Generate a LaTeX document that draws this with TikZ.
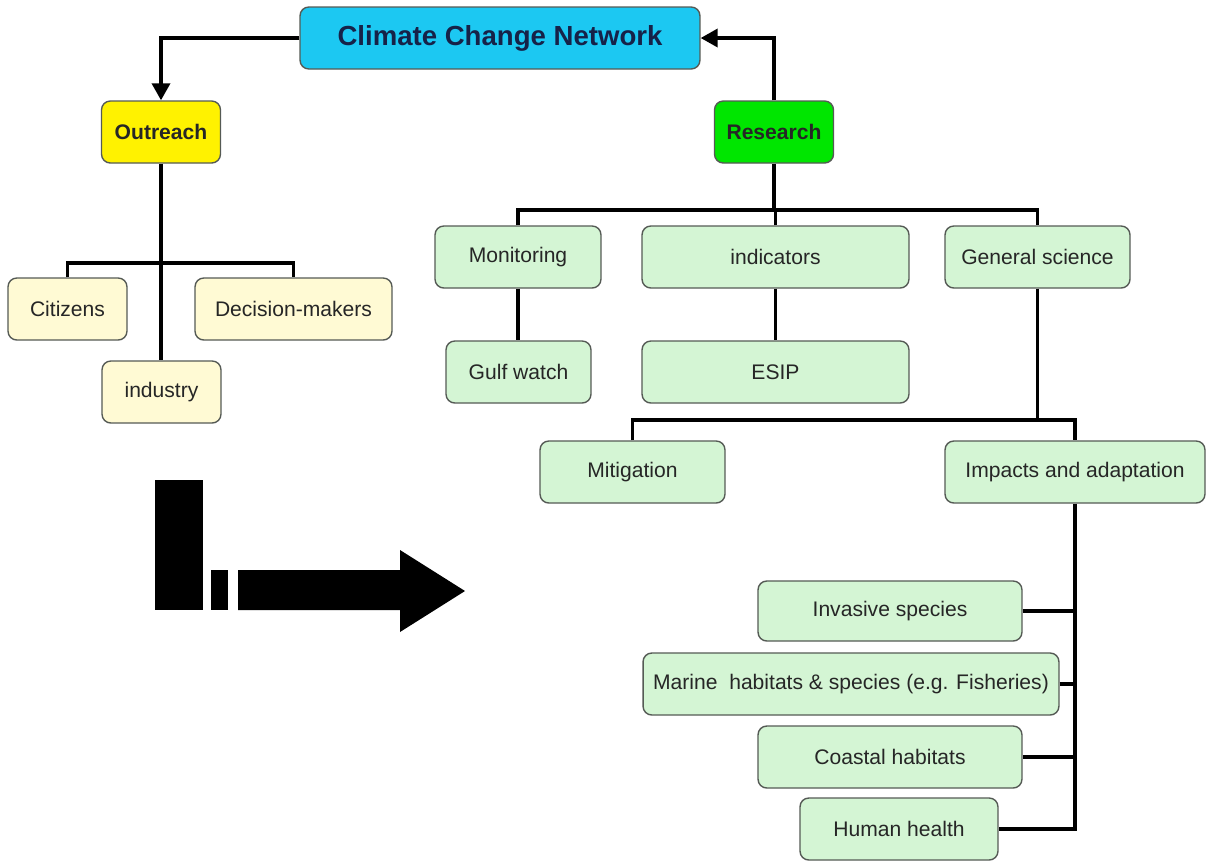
\documentclass[tikz,border=0pt]{standalone}
\usepackage{fontspec}
\setmainfont{Liberation Sans}
\usetikzlibrary{arrows.meta, positioning}

\definecolor{netblue}{RGB}{28,200,242}
\definecolor{netnavy}{RGB}{22,34,72}
\definecolor{outyellow}{RGB}{255,242,0}
\definecolor{resgreen}{RGB}{0,230,0}
\definecolor{palegreen}{RGB}{212,245,212}
\definecolor{paletan}{RGB}{255,250,212}
\definecolor{boxline}{RGB}{85,90,85}

\begin{document}
\begin{tikzpicture}[x=0.02cm, y=-0.02cm,
  box/.style={draw=boxline, line width=0.8pt, rounded corners=5pt, minimum height=1.24cm,
    inner sep=2pt, text=black!85, font=\fontsize{12}{14}\selectfont},
  greenbox/.style={box, fill=palegreen},
  tanbox/.style={box, fill=paletan},
  headbox/.style={box, font=\bfseries\fontsize{12}{14}\selectfont},
  link/.style={line width=2pt},
  arr/.style={link, -{Triangle[length=0.34cm, width=0.36cm]}}]
  \useasboundingbox (0,0) rectangle (1207,863);

  % top of the map
  \node[box, fill=netblue, text=netnavy, minimum width=8cm,
    font=\bfseries\fontsize{15.7}{18}\selectfont] (net) at (500,38) {Climate Change Network};
  \node[headbox, fill=outyellow, minimum width=2.38cm] (outreach) at (161,132) {Outreach};
  \node[headbox, fill=resgreen, minimum width=2.38cm] (research) at (774,132) {Research};
  \draw[arr] (net.west) -| (outreach.north);
  \draw[arr] (research.north) |- (net.east);

  % outreach branch
  \node[tanbox, minimum width=2.38cm] (citizens) at (67.5,309) {Citizens};
  \node[tanbox, minimum width=3.94cm] (deciders) at (293.5,309) {Decision-makers};
  \node[tanbox, minimum width=2.38cm] (industry) at (161.5,392) {industry};
  \coordinate (obus) at (161,263);
  \draw[link] (outreach.south) -- (outreach.south |- industry.north);
  \draw[link] (citizens.north) -- (citizens.north |- obus) -- (deciders.north |- obus) -- (deciders.north);

  % research branch
  \node[greenbox, minimum width=3.32cm] (monitoring) at (518,257) {Monitoring};
  \node[greenbox, minimum width=5.34cm] (indicators) at (775.5,257) {indicators};
  \node[greenbox, minimum width=3.7cm] (science) at (1037.5,257) {General science};
  \node[greenbox, minimum width=2.9cm] (gulf) at (518.5,372) {Gulf watch};
  \node[greenbox, minimum width=5.34cm] (esip) at (775.5,372) {ESIP};
  \coordinate (rbus) at (774,210);
  \draw[link] (research.south) -- (rbus);
  \draw[link] (monitoring.north) -- (monitoring.north |- rbus) -- (science.north |- rbus) -- (science.north);
  \draw[link] (indicators.north) -- (indicators.north |- rbus);
  \draw[link] (monitoring.south) -- (monitoring.south |- gulf.north);
  \draw[link] (indicators.south) -- (esip.north);

  % general science
  \node[greenbox, minimum width=3.7cm] (mitigation) at (632.5,472) {Mitigation};
  \node[greenbox, minimum width=5.2cm] (impacts) at (1075,472) {Impacts and adaptation};
  \coordinate (gbus) at (1038,420);
  \draw[link] (science.south) -- (science.south |- gbus);
  \draw[link] (mitigation.north) -- (mitigation.north |- gbus) -- (impacts.north |- gbus) -- (impacts.north);

  % impacts
  \node[greenbox, minimum width=5.28cm, minimum height=1.2cm] (invasive) at (890,611) {Invasive species};
  \node[greenbox, minimum width=8.32cm] (marine) at (851,684) {Marine\ \ habitats \& species (e.g. Fisheries)};
  \node[greenbox, minimum width=5.28cm] (coastal) at (890,757) {Coastal habitats};
  \node[greenbox, minimum width=3.96cm] (health) at (899,829) {Human health};
  \draw[link] (impacts.south) |- (health.east);
  \foreach \n in {invasive, marine, coastal}
    \draw[link] (\n.east) -- (\n.east -| impacts.south);

  % big arrow
  \fill (155,480) rectangle (203,610);
  \fill (211,570) rectangle (228,610);
  \fill (238,570) -- (400,570) -- (400,550) -- (465,591) -- (400,632) -- (400,610) -- (238,610) -- cycle;
\end{tikzpicture}
\end{document}
